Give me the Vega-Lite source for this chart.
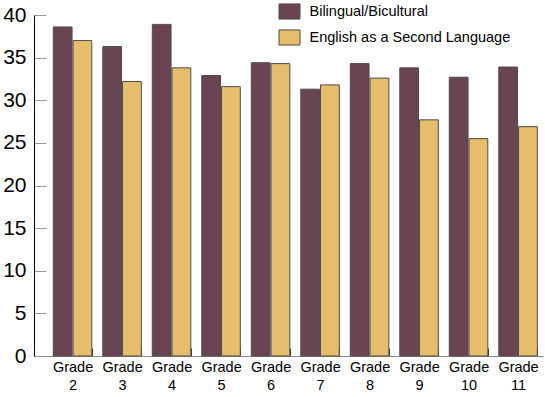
{
  "$schema": "https://vega.github.io/schema/vega-lite/v6.json",
  "width": 509,
  "height": 341,
  "autosize": {"type": "none"},
  "padding": {"left": 34, "top": 15, "right": 2, "bottom": 41},
  "data": {"values": [
    {"grade": "Grade 2", "program": "Bilingual/Bicultural", "value": 38.6},
    {"grade": "Grade 2", "program": "English as a Second Language", "value": 37.0},
    {"grade": "Grade 3", "program": "Bilingual/Bicultural", "value": 36.3},
    {"grade": "Grade 3", "program": "English as a Second Language", "value": 32.2},
    {"grade": "Grade 4", "program": "Bilingual/Bicultural", "value": 38.9},
    {"grade": "Grade 4", "program": "English as a Second Language", "value": 33.8},
    {"grade": "Grade 5", "program": "Bilingual/Bicultural", "value": 32.9},
    {"grade": "Grade 5", "program": "English as a Second Language", "value": 31.6},
    {"grade": "Grade 6", "program": "Bilingual/Bicultural", "value": 34.4},
    {"grade": "Grade 6", "program": "English as a Second Language", "value": 34.3},
    {"grade": "Grade 7", "program": "Bilingual/Bicultural", "value": 31.3},
    {"grade": "Grade 7", "program": "English as a Second Language", "value": 31.8},
    {"grade": "Grade 8", "program": "Bilingual/Bicultural", "value": 34.3},
    {"grade": "Grade 8", "program": "English as a Second Language", "value": 32.6},
    {"grade": "Grade 9", "program": "Bilingual/Bicultural", "value": 33.8},
    {"grade": "Grade 9", "program": "English as a Second Language", "value": 27.7},
    {"grade": "Grade 10", "program": "Bilingual/Bicultural", "value": 32.7},
    {"grade": "Grade 10", "program": "English as a Second Language", "value": 25.5},
    {"grade": "Grade 11", "program": "Bilingual/Bicultural", "value": 33.9},
    {"grade": "Grade 11", "program": "English as a Second Language", "value": 26.9}
  ]},
  "mark": {"type": "bar", "stroke": "#4d4d4d", "strokeWidth": 1},
  "encoding": {
    "x": {
      "field": "grade", "type": "nominal", "sort": null,
      "scale": {"paddingInner": 0.222, "paddingOuter": 0.2525, "align": 0.772},
      "axis": {
        "title": null, "labelAngle": 0,
        "labelExpr": "split(datum.label, ' ')",
        "labelFont": "Liberation Sans", "labelFontSize": 14.5, "labelColor": "black",
        "labelBaseline": "top", "labelLineHeight": 18, "labelPadding": 12,
        "tickBand": "extent", "tickSize": -8, "tickColor": "#333",
        "domainColor": "#888"
      }
    },
    "xOffset": {"field": "program", "sort": null, "scale": {"paddingInner": 0.05}},
    "y": {
      "field": "value", "type": "quantitative",
      "scale": {"domain": [0, 40], "nice": false},
      "axis": {
        "title": null, "grid": false,
        "values": [0, 5, 10, 15, 20, 25, 30, 35, 40],
        "tickSize": -12, "labelPadding": 20, "tickColor": "#999",
        "domainColor": "black",
        "labelFont": "Liberation Sans", "labelFontSize": 21, "labelColor": "black"
      }
    },
    "color": {
      "field": "program", "type": "nominal", "sort": null,
      "scale": {"domain": ["Bilingual/Bicultural", "English as a Second Language"], "range": ["#6b4454", "#e5bd6b"]},
      "legend": {
        "title": null, "orient": "none", "legendX": 244.5, "legendY": -14.5,
        "symbolType": "M-1,-0.72H1V0.72H-1Z", "symbolSize": 441,
        "symbolStrokeColor": "#4d4d4d", "symbolStrokeWidth": 1, "symbolOpacity": 1,
        "rowPadding": 5, "labelOffset": 9, "labelLimit": 400,
        "labelFont": "Liberation Sans", "labelFontSize": 14.5, "labelColor": "black"
      }
    }
  },
  "config": {"view": {"stroke": null}}
}
